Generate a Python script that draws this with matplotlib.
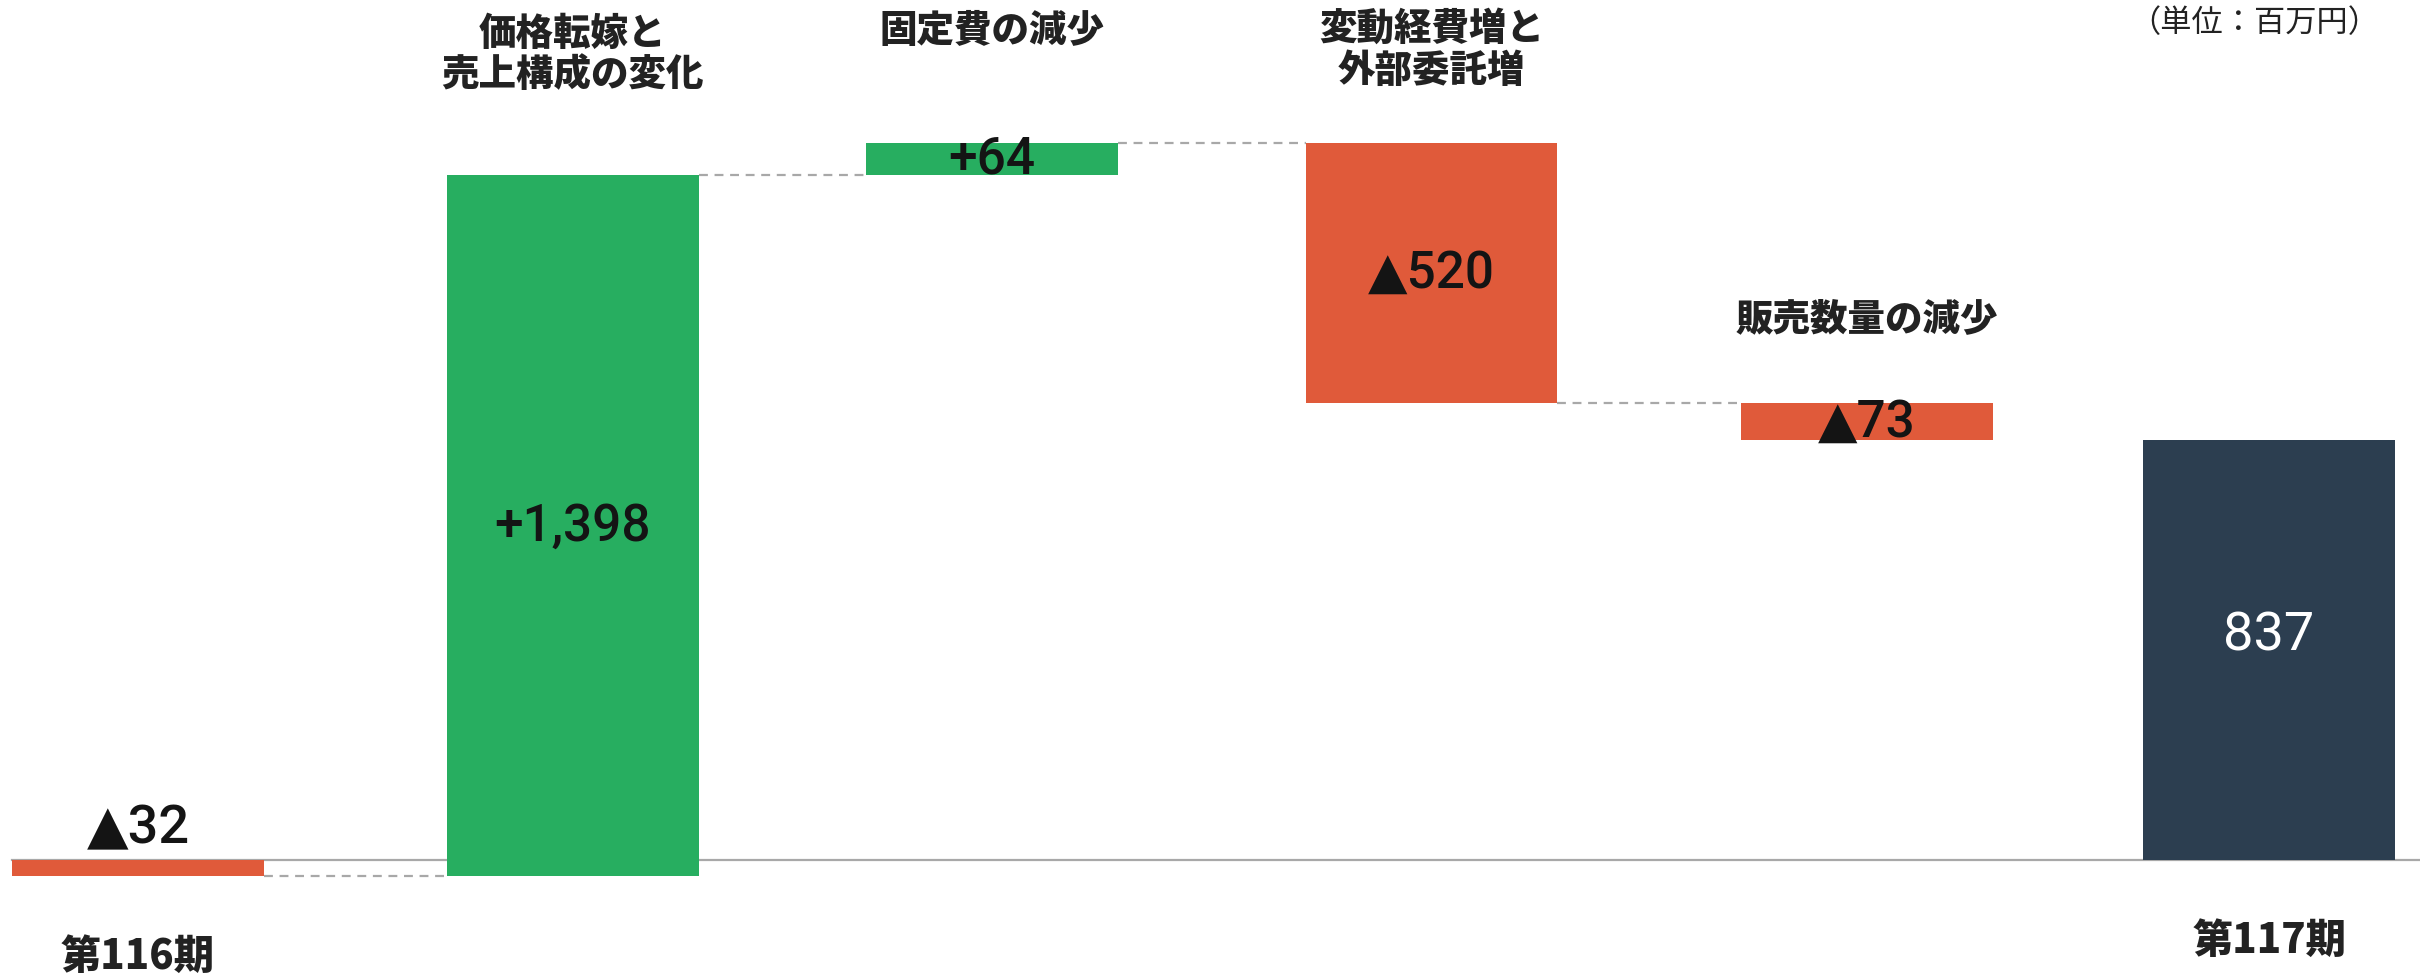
import matplotlib
matplotlib.use("Agg")
import matplotlib.pyplot as plt

# data (百万円)
categories = ["第116期", "価格転嫁と\n売上構成の変化", "固定費の減少",
              "変動経費増と\n外部委託増", "販売数量の減少", "第117期"]
values = [-32, 1398, 64, -520, -73, 837]
is_total = [True, False, False, False, False, True]
value_labels = ["▲32", "+1,398", "+64", "▲520", "▲73", "837"]
unit_label = "（単位：百万円）"

# layout: slot positions (slightly uneven in the original)
slots = [0, 1.02, 2.003, 3.035, 4.057, 5.0]
cat_y = [-191, 1607, 1655, 1617, 1080, -160]

RED = "#E05A3A"
GREEN = "#27AE60"
NAVY = "#2C3E50"
GRAY = "#a8a8a8"
TXT = "#222222"

JP = ["Noto Sans CJK JP", "DejaVu Sans"]
NUM = ["Roboto", "DejaVu Sans"]

fig = plt.figure(figsize=(24.2, 9.78), dpi=100)
ax = fig.add_axes([0, 0, 1, 1])
ax.set_xlim(-0.324, 5.354)
ax.set_ylim(-233, 1716)
ax.axis("off")

width = 0.59

# bottoms / colours
bottoms = []
colors = []
running = 0
for v, tot in zip(values, is_total):
    if tot:
        bottoms.append(0)
        colors.append(NAVY if v > 0 else RED)
        running = v
    else:
        bottoms.append(running)
        colors.append(GREEN if v > 0 else RED)
        running += v

ax.bar(slots, values, width, bottom=bottoms, color=colors, zorder=2)

# baseline
ax.plot([slots[0] - width / 2, 5.354], [0, 0], color=GRAY, lw=1.6, zorder=1)

# connectors between the change bars
for i in range(len(values) - 2):
    level = bottoms[i] + values[i]
    ax.plot([slots[i] + width / 2, slots[i + 1] - width / 2], [level, level],
            color=GRAY, lw=1.6, ls=(0, (4, 3)), zorder=1)

# value labels
val_y = []
for i, v in enumerate(values):
    if i == 0:
        val_y.append(64)
    elif i == len(values) - 1:
        val_y.append(449)
    else:
        val_y.append(bottoms[i] + v / 2)
for i, s in enumerate(value_labels):
    last = i == len(values) - 1
    ax.text(slots[i], val_y[i], s, ha="center", va="center",
            fontsize=39 if last or i == 0 else 37,
            color="white" if last else "#141414",
            weight="normal" if last else "medium", family=NUM, zorder=3)

# category labels
for i, c in enumerate(categories):
    ax.text(slots[i], cat_y[i], c, ha="center", va="center",
            fontsize=29 if is_total[i] else 27,
            weight="heavy", color=TXT, family=JP, linespacing=1.12)

fig.text(0.983, 0.976, unit_label, ha="right", va="center", fontsize=22.5,
         color=TXT, family=JP)

fig.savefig("out.png", dpi=100, facecolor="white")
